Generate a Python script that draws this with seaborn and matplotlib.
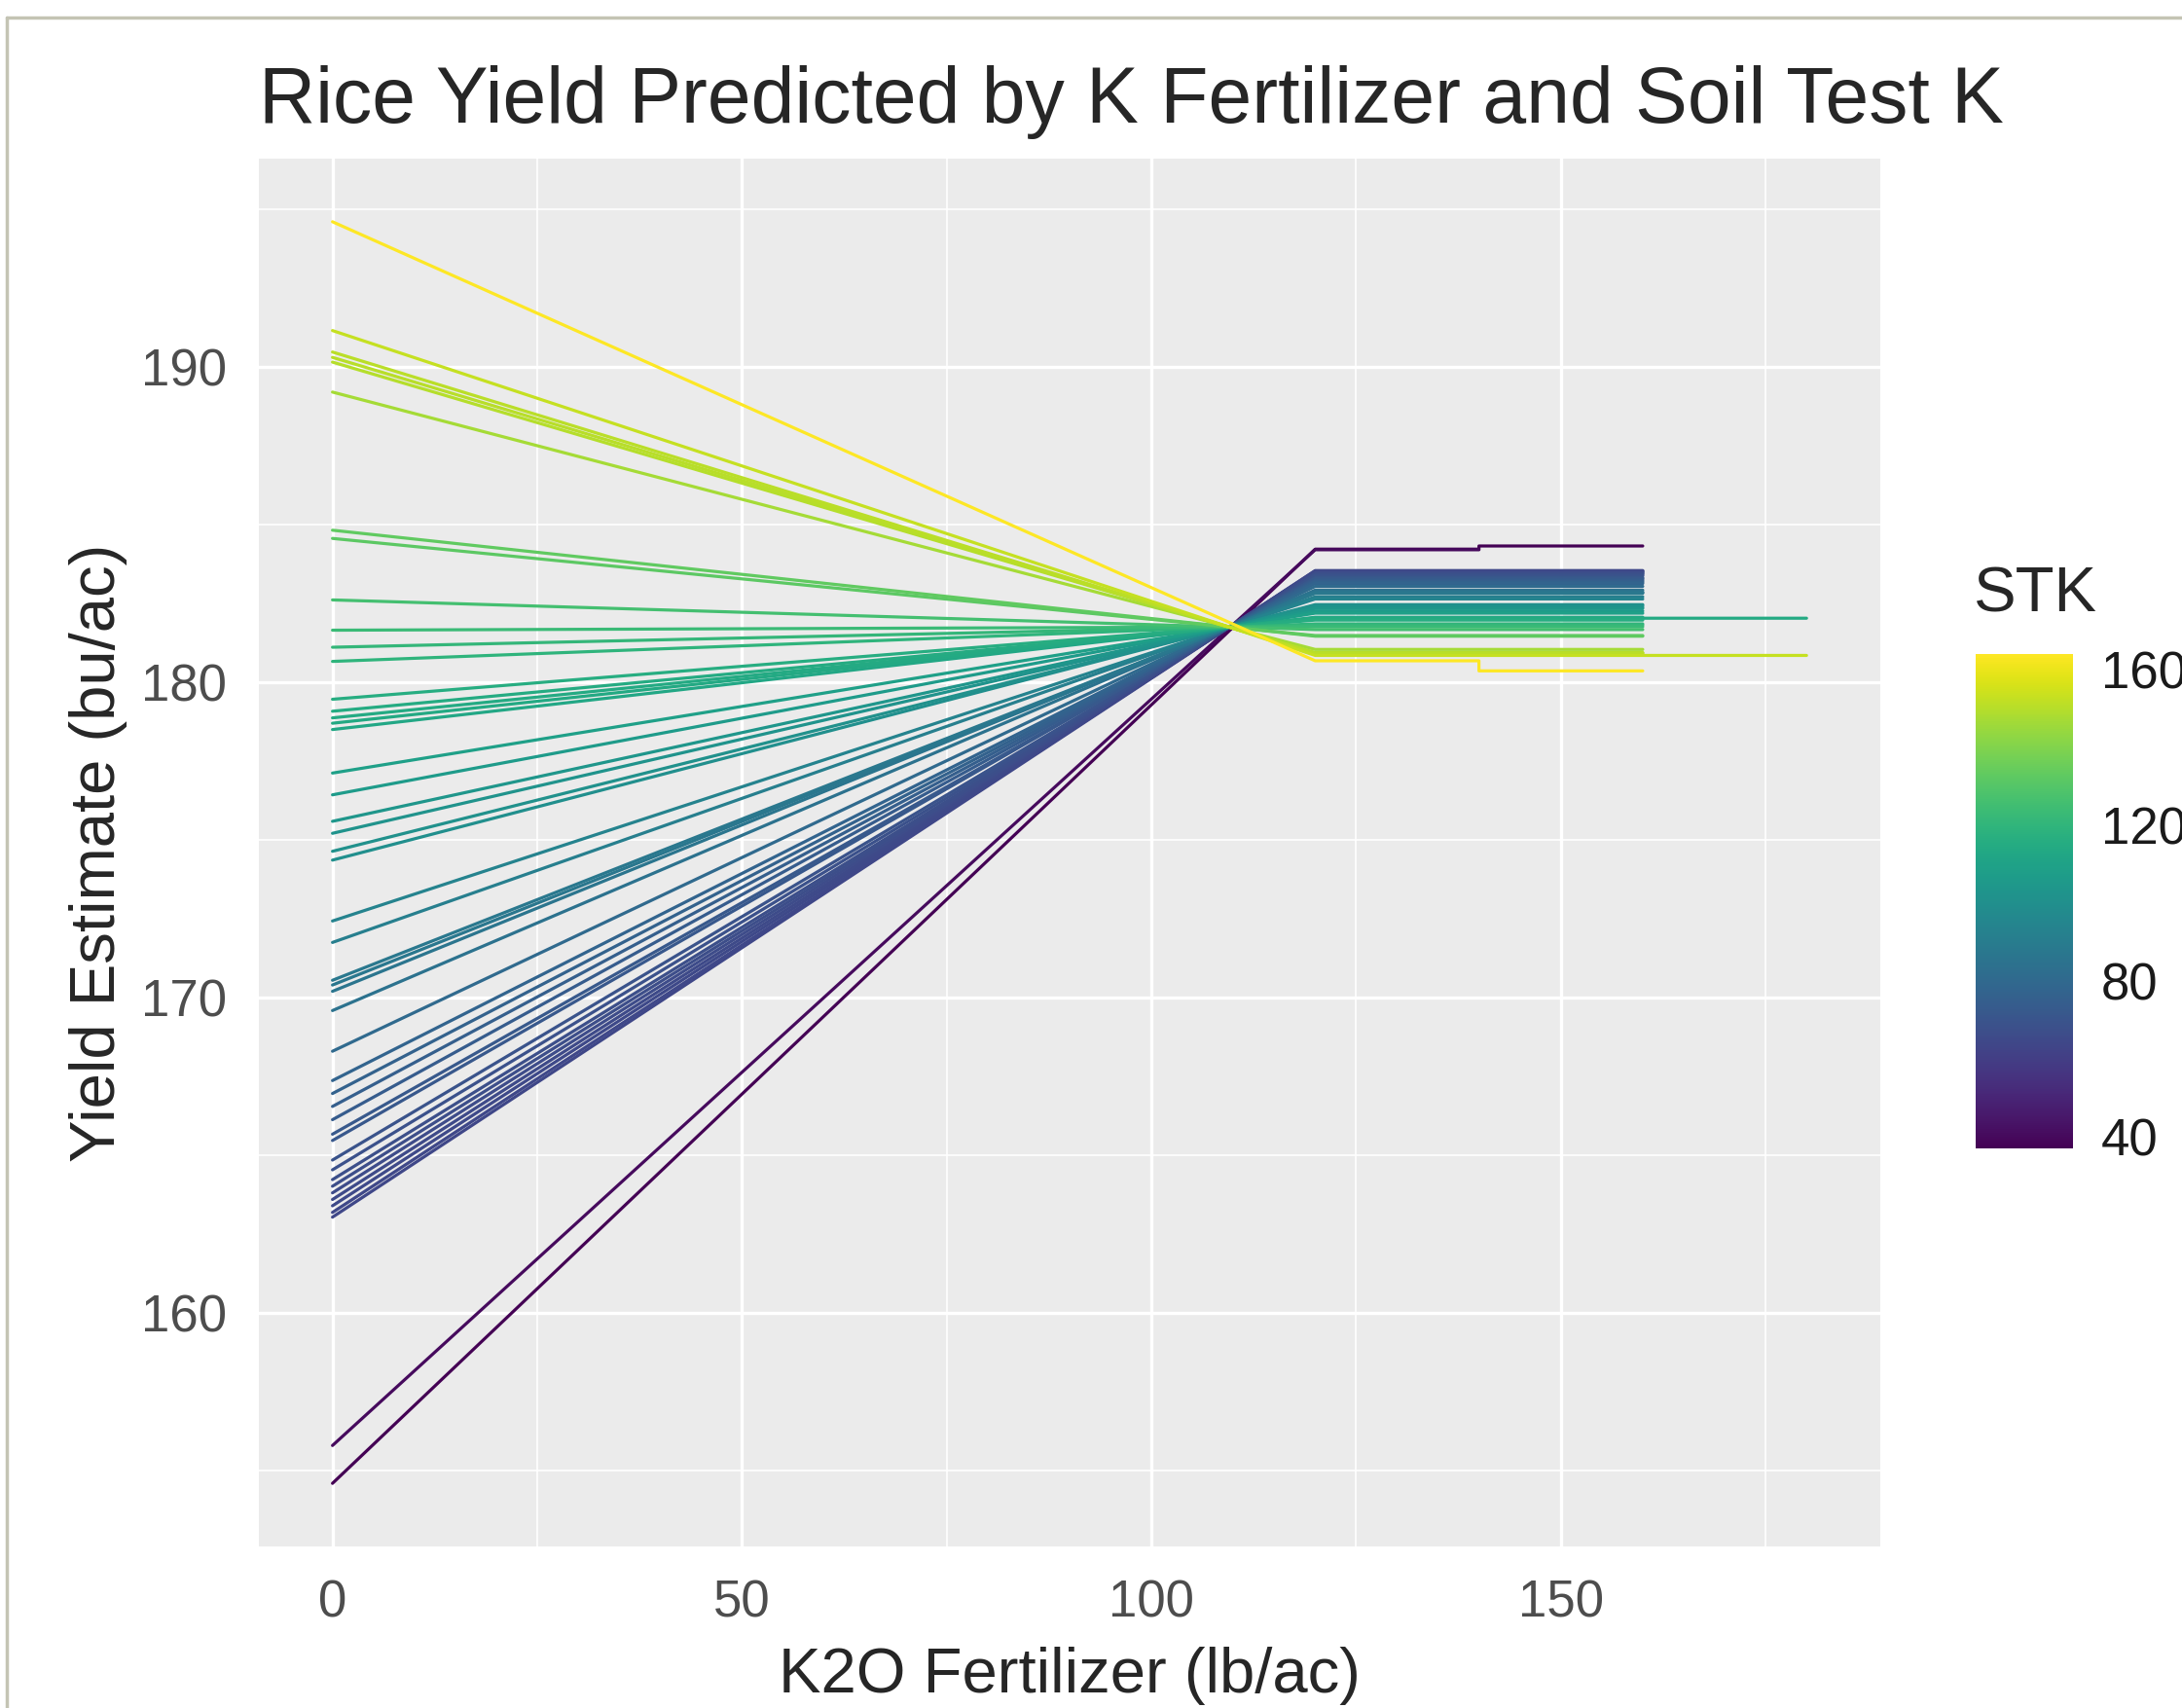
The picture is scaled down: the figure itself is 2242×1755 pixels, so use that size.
import numpy as np
import pandas as pd
import seaborn as sns
import matplotlib.pyplot as plt
from matplotlib.colors import Normalize
from matplotlib.cm import ScalarMappable
from matplotlib.lines import Line2D
from matplotlib.ticker import MultipleLocator

sns.set_theme(style="darkgrid", rc={
    "axes.facecolor": "#EBEBEB",
    "grid.color": "white",
    "axes.edgecolor": "#EBEBEB",
})
plt.rcParams['font.family'] = ['Liberation Sans', 'DejaVu Sans']

# %% Data

# soil test K of each fitted curve
stk = [37, 40, 64, 64.3, 64.9, 65.6, 66.2, 66.9, 67.6, 68.6, 69.5, 71.5, 72.1,
       73.6, 74.9, 76.2, 77.5, 80.5, 84.6, 86.5, 87.1, 87.6, 91.4, 93.6, 99.7,
       100.6, 102.4, 103.6, 106.2, 108.4, 112.8, 113.4, 114, 114.6, 115.9,
       119.7, 121, 122.8, 125.8, 132, 132.8, 146.7, 149.7, 150.2, 150.8, 152.9,
       163.9]

# predicted yield at 0 lb/ac K2O
yield_0 = [154.6, 155.8, 163.04, 163.19, 163.4, 163.6, 163.81, 164.02, 164.23,
           164.54, 164.85, 165.47, 165.67, 166.13, 166.55, 166.96, 167.37,
           168.3, 169.59, 170.2, 170.4, 170.55, 171.75, 172.43, 174.36, 174.64,
           175.21, 175.59, 176.43, 177.12, 178.5, 178.7, 178.87, 179.08, 179.46,
           180.66, 181.11, 181.65, 182.61, 184.56, 184.82, 189.2, 190.15, 190.3,
           190.47, 191.15, 194.6]

# plateau yield from 120 to 140 lb/ac
yield_plateau = [184.22, 184.2, 183.54, 183.53, 183.51, 183.49, 183.47, 183.45,
                 183.43, 183.40, 183.37, 183.31, 183.29, 183.25, 183.21, 183.17,
                 183.13, 183.04, 182.92, 182.86, 182.84, 182.82, 182.71, 182.64,
                 182.46, 182.43, 182.38, 182.34, 182.26, 182.19, 182.06, 182.04,
                 182.03, 182.01, 181.97, 181.85, 181.81, 181.76, 181.67, 181.48,
                 181.46, 181.04, 180.94, 180.93, 180.91, 180.85, 180.68]

# plateau yield from 140 lb/ac on (differs for two curves)
yield_late = list(yield_plateau)
yield_late[0] = 184.32
yield_late[-1] = 180.36

# last K2O rate of each curve
rate_end = [160] * len(stk)
rate_end[1] = 140
rate_end[32] = 180
rate_end[45] = 180

rows = []
for i in range(len(stk)):
    rates = [0, 120, 140, 140, rate_end[i]]
    ys = [yield_0[i], yield_plateau[i], yield_plateau[i], yield_late[i], yield_late[i]]
    for r, y in zip(rates, ys):
        rows.append({"Curve": i, "STK": stk[i], "K2O": r, "Yield": y})
curves = pd.DataFrame(rows)

# %% Plot

fig = plt.figure(figsize=(22.42, 17.55), dpi=100)
ax = fig.add_axes([0.1186, 0.0946, 0.7431, 0.8125])

norm = Normalize(vmin=min(stk), vmax=max(stk))
sns.lineplot(
    data=curves, x="K2O", y="Yield", hue="STK", units="Curve",
    estimator=None, sort=False, palette="viridis", hue_norm=norm,
    linewidth=2.3, legend=False, ax=ax,
)
ax.margins(x=0.05, y=0.05)

ax.set_xticks([0, 50, 100, 150])
ax.set_yticks([160, 170, 180, 190])
ax.xaxis.set_minor_locator(MultipleLocator(25))
ax.yaxis.set_minor_locator(MultipleLocator(5))
ax.grid(which="major", color="white", linewidth=2.4)
ax.grid(which="minor", color="white", linewidth=1.2)
ax.tick_params(which="major", length=13, width=1.6, color="#333333",
               labelsize=38, labelcolor="#4D4D4D", pad=11)
ax.tick_params(which="minor", length=0)
for s in ax.spines.values():
    s.set_visible(False)

ax.set_xlabel("K2O Fertilizer (lb/ac)", fontsize=47, va="center")
ax.set_ylabel("Yield Estimate (bu/ac)", fontsize=47, va="center")
ax.xaxis.set_label_coords(0.5, -0.093)
ax.yaxis.set_label_coords(-0.099, 0.5)
ax.set_title("Rice Yield Predicted by K Fertilizer and Soil Test K",
             fontsize=58, loc="left", pad=27)

# colour bar legend (labels run off the right edge, as in the cropped original)
cax = fig.add_axes([0.9054, 0.3276, 0.0446, 0.2895])
cb = fig.colorbar(ScalarMappable(norm=norm, cmap="viridis"), cax=cax)
cb.outline.set_visible(False)
cb.set_ticks([40, 80, 120, 160])
cax.yaxis.set_ticks_position("both")
cax.tick_params(direction="in", length=20, width=2.2, color="white",
                labelsize=38, labelcolor="#1A1A1A", pad=21)
fig.text(0.9045, 0.6513, "STK", fontsize=47, va="center", ha="left")

# screenshot frame
fig.add_artist(Line2D([0.003, 1], [0.9897, 0.9897], color="#C4C4B4", lw=2.5))
fig.add_artist(Line2D([0.003, 0.003], [0, 0.9897], color="#C4C4B4", lw=2.5))

plt.savefig("out.png", dpi=100)
